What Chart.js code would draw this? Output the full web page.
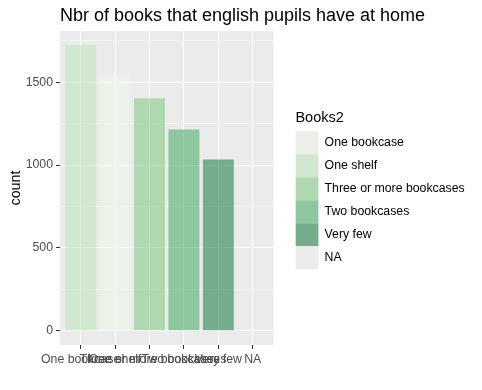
<!DOCTYPE html>
<html>
<head>
<meta charset="utf-8">
<script src="https://cdn.jsdelivr.net/npm/chart.js@4"></script>
<style>
  html, body { margin: 0; padding: 0; background: #ffffff; }
  #wrap { width: 482px; height: 390px; }
</style>
</head>
<body>
<div id="wrap"><canvas id="c" width="482" height="390"></canvas></div>
<script>
// ---- data ----
const categories = ["One bookcase", "One shelf", "Three or more bookcases", "Two bookcases", "Very few", "NA"];
const counts = [1723, 1542, 1403, 1215, 1034, 0];
const barColors = ["rgba(186,228,179,0.5)", "rgba(237,248,233,0.5)", "rgba(116,196,118,0.5)", "rgba(49,163,84,0.5)", "rgba(0,109,44,0.5)", "rgba(127,127,127,0.5)"];
const legendLabels = ["One bookcase", "One shelf", "Three or more bookcases", "Two bookcases", "Very few", "NA"];
const legendColors = ["#eceee9", "#d2e7cf", "#b0d8b0", "#8ec79f", "#75ac8b", "#ebebeb"];
const yMajorTicks = [0, 500, 1000, 1500];
const yMinorTicks = [250, 750, 1250, 1750];

const FONT = "'Liberation Sans', Arial, sans-serif";
const yMaxData = Math.max(...counts);
const yPad = yMaxData * 0.05;

const panelBg = {
  id: 'panelBg',
  beforeDraw(chart) {
    const a = chart.chartArea, ctx = chart.ctx;
    ctx.save();
    ctx.fillStyle = '#ebebeb';
    ctx.fillRect(a.left, a.top, a.right - a.left, a.bottom - a.top);
    ctx.restore();
  }
};

new Chart(document.getElementById('c'), {
  type: 'bar',
  data: {
    datasets: [{
      data: counts.map((v, i) => ({ x: i, y: v })),
      backgroundColor: barColors,
      borderWidth: 0,
      barPercentage: 0.9,
      categoryPercentage: 1.0
    }]
  },
  options: {
    responsive: false,
    animation: false,
    layout: { padding: { top: 0, right: 7.3, bottom: 10, left: 10.3 } },
    scales: {
      x: {
        type: 'linear',
        offset: false,
        min: -0.6,
        max: categories.length - 1 + 0.6,
        afterBuildTicks(s) { s.ticks = categories.map((_, i) => ({ value: i })); },
        afterFit(s) { s.height = 35; },
        ticks: {
          autoSkip: false, maxRotation: 0, minRotation: 0,
          padding: 3,
          color: '#4d4d4d',
          font: { family: FONT, size: 12.3 },
          callback: (v) => categories[v]
        },
        grid: { offset: false, color: '#ffffff', lineWidth: 1, tickColor: '#333333', tickLength: 4, tickWidth: 1 },
        border: { display: false }
      },
      y: {
        type: 'linear',
        min: -yPad,
        max: yMaxData + yPad,
        afterBuildTicks(s) {
          s.ticks = yMajorTicks.concat(yMinorTicks).sort((a, b) => a - b).map(v => ({ value: v }));
        },
        afterFit(s) { s.width = 49.7; },
        title: {
          display: true, text: 'count', color: '#000000',
          font: { family: FONT, size: 14.3 },
          padding: { top: -3, bottom: 0 }
        },
        ticks: {
          padding: 3,
          color: '#4d4d4d',
          font: { family: FONT, size: 12.3 },
          callback: (v) => yMajorTicks.includes(v) ? String(v) : ''
        },
        grid: {
          color: '#ffffff',
          lineWidth: (c) => (c.tick && yMajorTicks.includes(c.tick.value)) ? 1 : 0.5,
          tickColor: (c) => (c.tick && yMajorTicks.includes(c.tick.value)) ? '#333333' : 'rgba(0,0,0,0)',
          tickWidth: 1,
          tickLength: 4
        },
        border: { display: false }
      },
      yR: {
        type: 'linear',
        position: 'right',
        display: true,
        afterFit(s) { s.width = 22; },
        ticks: { display: false },
        grid: { display: false, drawTicks: false },
        border: { display: false }
      }
    },
    plugins: {
      tooltip: { enabled: false },
      title: {
        display: true,
        text: 'Nbr of books that english pupils have at home',
        align: 'center',
        fullSize: true,
        color: '#000000',
        font: { family: FONT, size: 18, weight: 'normal' },
        padding: { top: 5, bottom: 4.4 }
      },
      legend: {
        display: true,
        position: 'right',
        align: 'center',
        fullSize: true,
        maxWidth: 300,
        title: {
          display: true, text: 'Books2', position: 'start', color: '#000000',
          font: { family: FONT, size: 14.5 },
          padding: { top: 0, bottom: 3 }
        },
        labels: {
          boxWidth: 23, boxHeight: 23, padding: 0,
          color: '#000000',
          font: { family: FONT, size: 12.3 },
          generateLabels: () => legendLabels.map((t, i) => ({
            text: t, fillStyle: legendColors[i], strokeStyle: 'rgba(0,0,0,0)',
            lineWidth: 0, hidden: false, index: i, fontColor: '#000000'
          }))
        }
      }
    }
  },
  plugins: [panelBg]
});
</script>
</body>
</html>
